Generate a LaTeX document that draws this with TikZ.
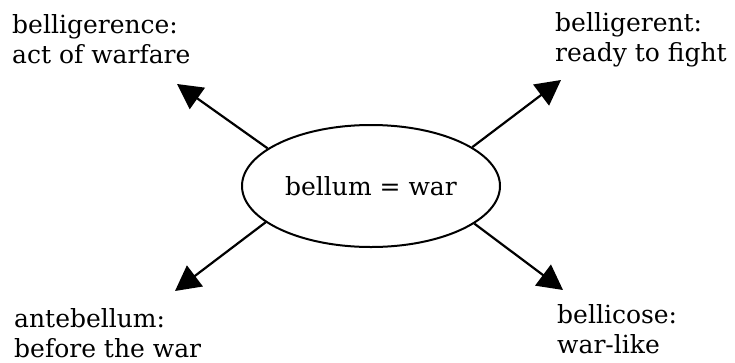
\documentclass[tikz,border=0pt]{standalone}
\usepackage{fontspec}
\setmainfont{DejaVu Serif}
\usetikzlibrary{shapes.geometric,arrows.meta}
\begin{document}
\begin{tikzpicture}[x=1pt,y=-1pt,
  word/.style={font=\fontsize{25}{30}\selectfont, align=left, inner sep=0pt, anchor=base west},
  hub/.style={ellipse, draw, line width=2pt, minimum width=258pt, minimum height=122pt, inner sep=0pt,
    font=\fontsize{25}{30}\selectfont},
  link/.style={line width=2.2pt, -{Triangle[length=25pt,width=26pt]}}]
\useasboundingbox (0,0) rectangle (735,362);
% central idea
\node[hub] (c) at (371,186) {bellum = war};
% derived words (anchored at the baseline of the second line)
\node[word] (ul) at (12,63) {belligerence:\\act of warfare};
\node[word] (ur) at (555,61) {belligerent:\\ready to fight};
\node[word] (ll) at (14,357) {antebellum:\\before the war};
\node[word] (lr) at (557,353) {bellicose:\\war-like};
% arrow tips
\coordinate (tul) at (177,84);
\coordinate (tur) at (561,80);
\coordinate (tll) at (175,291);
\coordinate (tlr) at (563,290);
\draw[link] (c.160) -- (tul);
\draw[link] (c.21) -- (tur);
\draw[link] (c.199) -- (tll);
\draw[link] (c.340) -- (tlr);
\end{tikzpicture}
\end{document}
